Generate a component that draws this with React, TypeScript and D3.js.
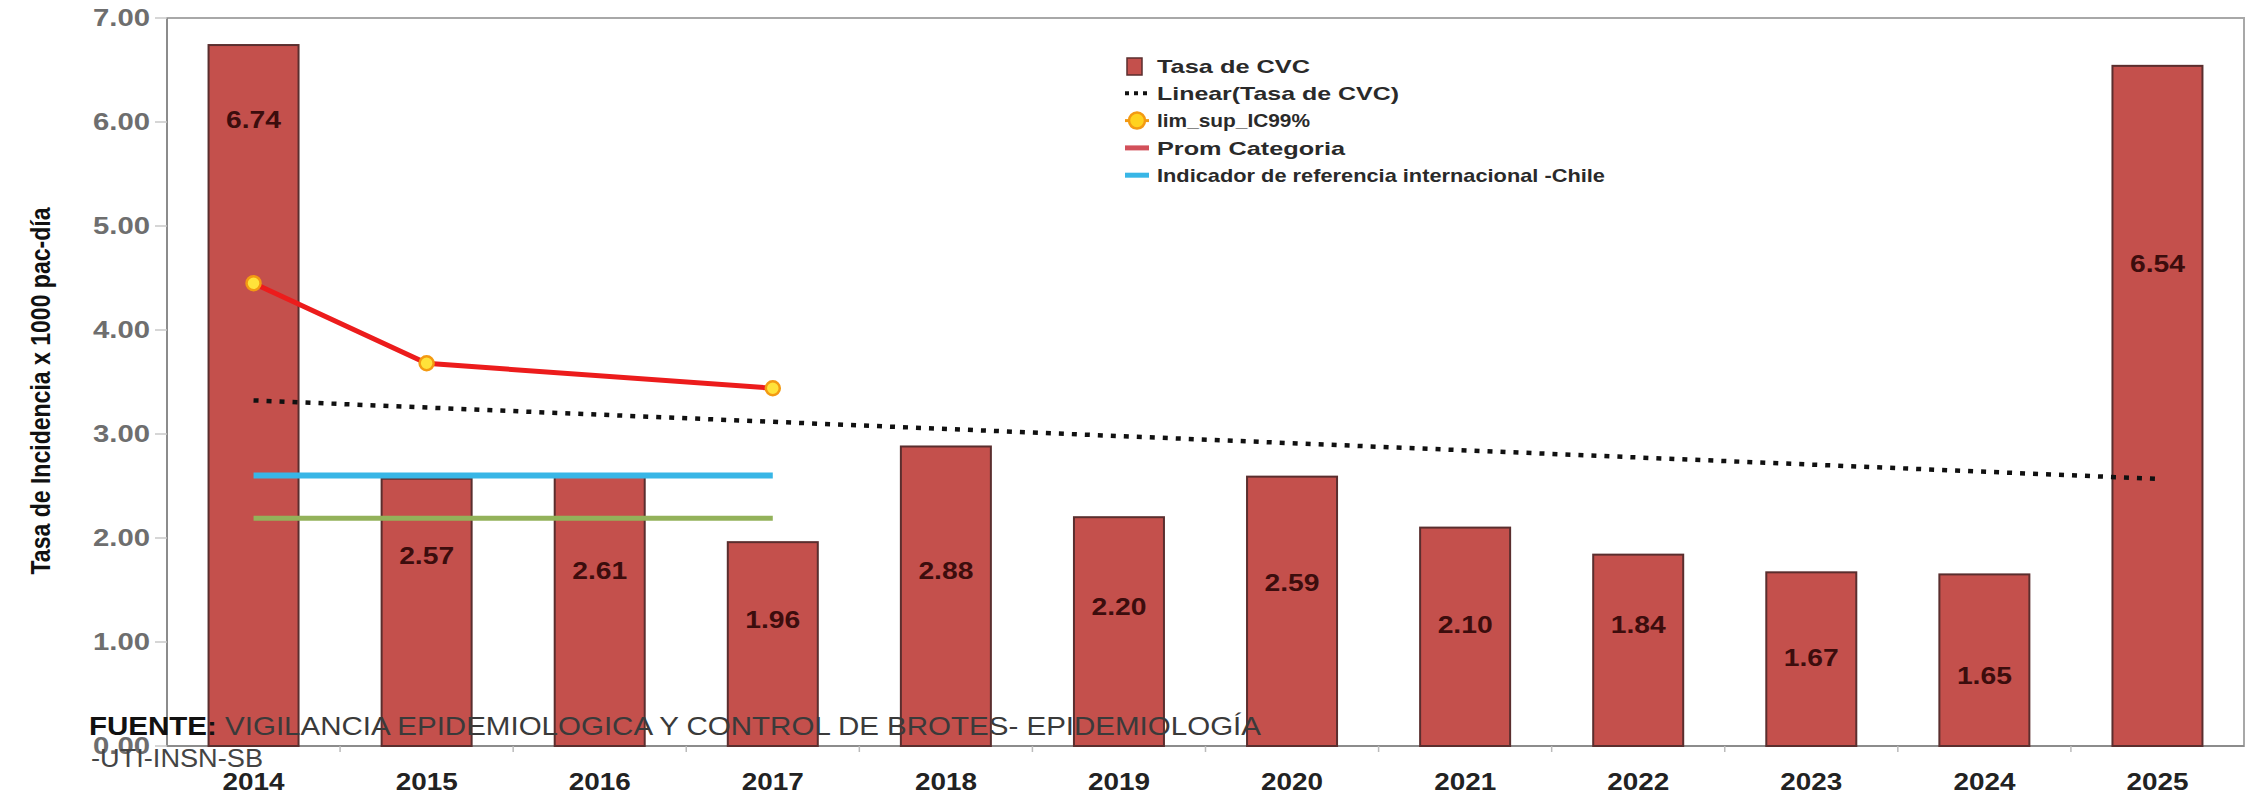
import React from 'react';
import * as d3 from 'd3';

const years = ['2014', '2015', '2016', '2017', '2018', '2019', '2020', '2021', '2022', '2023', '2024', '2025'];
const tasaCVC = [6.74, 2.57, 2.61, 1.96, 2.88, 2.2, 2.59, 2.1, 1.84, 1.67, 1.65, 6.54];
const limSupIC99: (number | null)[] = [4.45, 3.68, null, 3.44, null, null, null, null, null, null, null, null];
const indicadorRefChile: (number | null)[] = [2.6, 2.6, 2.6, 2.6, null, null, null, null, null, null, null, null];
const promCategoria: (number | null)[] = [2.19, 2.19, 2.19, 2.19, null, null, null, null, null, null, null, null];
// value-label anchor heights, in data units
const labelAnchor = [6.02, 1.83, 1.69, 1.21, 1.69, 1.34, 1.57, 1.17, 1.17, 0.85, 0.68, 4.64];
const yTicks = [0, 1, 2, 3, 4, 5, 6, 7];
const legendItems = [
  'Tasa de CVC',
  'Linear(Tasa de CVC)',
  'lim_sup_IC99%',
  'Prom Categoria',
  'Indicador de referencia internacional -Chile',
];

const FONT = "'Liberation Sans', Arial, sans-serif";

export default function App() {
  const W = 2252;
  const H = 796;
  const left = 167, right = 2244, top = 18, bottom = 746;

  const x = d3.scaleBand<string>().domain(years).range([left, right]).paddingInner(0.48).paddingOuter(0.24);
  const y = d3.scaleLinear().domain([0, 7]).range([bottom, top]);
  const cx = (i: number) => (x(years[i]) as number) + x.bandwidth() / 2;

  // linear trend of the bar series
  const n = tasaCVC.length;
  const xm = d3.mean(d3.range(n)) as number;
  const ym = d3.mean(tasaCVC) as number;
  const sxy = d3.sum(tasaCVC.map((v, i) => (i - xm) * (v - ym)));
  const sxx = d3.sum(d3.range(n).map((i) => (i - xm) * (i - xm)));
  const slope = sxy / sxx;
  const icpt = ym - slope * xm;
  const trendPts: [number, number][] = [0, n - 1].map((i) => [cx(i), y(icpt + slope * i)]);

  const line = d3.line<[number, number]>();
  const pts = (arr: (number | null)[]) =>
    arr.map((v, i) => (v == null ? null : ([cx(i), y(v)] as [number, number]))).filter((p) => p != null) as [number, number][];

  const step = x.step();
  const xTickPos = d3.range(1, years.length).map((k) => left + step * k);

  const legX = 1125;
  const legY0 = 66;
  const legDy = 27.3;
  const legWidths = [153, 242, 153, 188, 448];

  return (
    <svg width={W} height={H} style={{ position: 'absolute', left: 0, top: 0, background: '#fff' }} fontFamily={FONT}>
      <rect x={0} y={0} width={W} height={H} fill="#fff" />
      {/* plot border */}
      <rect x={left} y={top} width={right - left} height={bottom - top} fill="none" stroke="#a8a8a8" strokeWidth={2} />
      <line x1={left} x2={left} y1={top} y2={bottom} stroke="#8c8c8c" strokeWidth={2} />
      <line x1={left} x2={right} y1={bottom} y2={bottom} stroke="#8c8c8c" strokeWidth={2} />

      {/* y ticks */}
      {yTicks.map((t) => (
        <g key={t}>
          <line x1={155} x2={left} y1={y(t)} y2={y(t)} stroke="#c8c8c8" strokeWidth={1.5} />
          <text
            x={150}
            y={y(t)}
            dy="0.36em"
            textAnchor="end"
            fontSize={23}
            fontWeight="bold"
            fill="#6e6e6e"
            textLength={57}
            lengthAdjust="spacingAndGlyphs"
          >
            {t.toFixed(2)}
          </text>
        </g>
      ))}

      {/* x ticks */}
      {xTickPos.map((p, i) => (
        <line key={i} x1={p} x2={p} y1={bottom} y2={bottom + 6} stroke="#bbb" strokeWidth={1.5} />
      ))}

      {/* bars */}
      {tasaCVC.map((v, i) => (
        <rect
          key={years[i]}
          x={x(years[i])}
          y={y(v)}
          width={x.bandwidth()}
          height={y(0) - y(v)}
          fill="#c4504c"
          stroke="#5a2e2e"
          strokeWidth={2}
        />
      ))}

      {/* reference lines */}
      <path d={line(pts(promCategoria)) || ''} fill="none" stroke="#93b25a" strokeWidth={5} />
      <path d={line(pts(indicadorRefChile)) || ''} fill="none" stroke="#38b6e6" strokeWidth={6} />

      {/* trend */}
      <path d={line(trendPts) || ''} fill="none" stroke="#111" strokeWidth={4.5} strokeDasharray="5 8" />

      {/* lim sup IC99 */}
      <path d={line(pts(limSupIC99)) || ''} fill="none" stroke="#ec1c1c" strokeWidth={5} />
      {pts(limSupIC99).map((p, i) => (
        <circle key={i} cx={p[0]} cy={p[1]} r={7} fill="#ffe23a" stroke="#f39a12" strokeWidth={2.5} />
      ))}

      {/* bar value labels */}
      {tasaCVC.map((v, i) => (
        <text
          key={'l' + i}
          x={cx(i)}
          y={y(labelAnchor[i])}
          dy="0.36em"
          textAnchor="middle"
          fontSize={23}
          fontWeight="bold"
          fill="#3c0d0d"
          textLength={55}
          lengthAdjust="spacingAndGlyphs"
        >
          {v.toFixed(2)}
        </text>
      ))}

      {/* x labels */}
      {years.map((yr, i) => (
        <text
          key={yr}
          x={cx(i)}
          y={790}
          textAnchor="middle"
          fontSize={24}
          fontWeight="bold"
          fill="#222"
          textLength={62}
          lengthAdjust="spacingAndGlyphs"
        >
          {yr}
        </text>
      ))}

      {/* y axis title */}
      <text
        transform="translate(50,391) rotate(-90)"
        textAnchor="middle"
        fontSize={27}
        fontWeight="bold"
        fill="#111"
        fontFamily="'Liberation Sans Narrow', 'Liberation Sans', Arial, sans-serif"
        textLength={367}
        lengthAdjust="spacingAndGlyphs"
      >
        Tasa de Incidencia x 1000 pac-día
      </text>

      {/* legend */}
      <g fontSize={19} fontWeight="bold" fill="#2a2a2a">
        <rect x={legX + 2} y={legY0 - 8} width={15} height={17} fill="#c4504c" stroke="#5a2e2e" strokeWidth={1.5} />
        <line x1={legX} x2={legX + 24} y1={legY0 + legDy} y2={legY0 + legDy} stroke="#111" strokeWidth={4} strokeDasharray="4 5" />
        <line x1={legX} x2={legX + 24} y1={legY0 + 2 * legDy} y2={legY0 + 2 * legDy} stroke="#f39a12" strokeWidth={3} />
        <circle cx={legX + 12} cy={legY0 + 2 * legDy} r={8} fill="#ffd21e" stroke="#f39a12" strokeWidth={2.5} />
        <line x1={legX} x2={legX + 24} y1={legY0 + 3 * legDy} y2={legY0 + 3 * legDy} stroke="#d2505a" strokeWidth={5} />
        <line x1={legX} x2={legX + 24} y1={legY0 + 4 * legDy} y2={legY0 + 4 * legDy} stroke="#38b6e6" strokeWidth={5} />
        {legendItems.map((t, i) => (
          <text key={t} x={legX + 32} y={legY0 + i * legDy} dy="0.36em" textLength={legWidths[i]} lengthAdjust="spacingAndGlyphs">
            {t}
          </text>
        ))}
      </g>

      {/* source note */}
      <text x={89} y={735} fontSize={25} fill="#3a3a3a" textLength={1172} lengthAdjust="spacingAndGlyphs">
        <tspan fontWeight="bold" fill="#111">FUENTE:</tspan> VIGILANCIA EPIDEMIOLOGICA Y CONTROL DE BROTES- EPIDEMIOLOGÍA
      </text>
      <text x={91} y={767} fontSize={25} fill="#444" textLength={172} lengthAdjust="spacingAndGlyphs">
        -UTI-INSN-SB
      </text>
    </svg>
  );
}
